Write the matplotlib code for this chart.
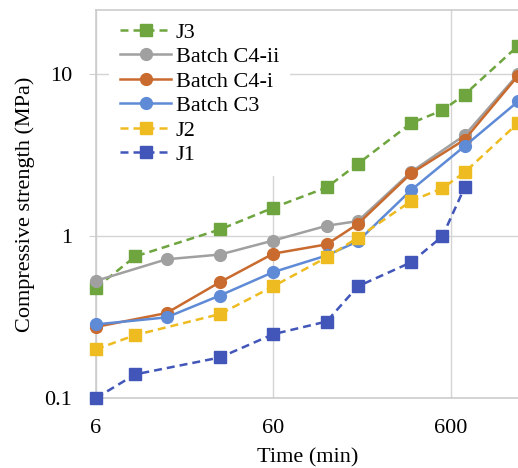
import matplotlib
matplotlib.use("Agg")
import matplotlib.pyplot as plt

plt.rcParams['font.family'] = ['Liberation Serif', 'DejaVu Serif']

# Data
t_j3 = [6, 10, 30, 60, 120, 180, 360, 540, 720, 1440]
j3 = [0.48, 0.75, 1.1, 1.5, 2.0, 2.8, 5.0, 6.0, 7.5, 15.0]

t_batch = [6, 15, 30, 60, 120, 180, 360, 720, 1440]
c4ii = [0.53, 0.72, 0.77, 0.94, 1.16, 1.24, 2.5, 4.2, 10.0]
c4i = [0.275, 0.335, 0.52, 0.78, 0.89, 1.19, 2.45, 3.95, 9.8]
c3 = [0.285, 0.315, 0.43, 0.60, 0.76, 0.93, 1.93, 3.6, 6.8]

t_j2 = [6, 10, 30, 60, 120, 180, 360, 540, 720, 1440]
j2 = [0.2, 0.245, 0.33, 0.49, 0.74, 0.98, 1.65, 1.98, 2.48, 5.0]

t_j1 = [6, 10, 30, 60, 120, 180, 360, 540, 720]
j1 = [0.1, 0.14, 0.178, 0.248, 0.297, 0.49, 0.69, 1.0, 2.0]

xticks = [6, 60, 600]
xticklabels = ["6", "60", "600"]
yticks = [0.1, 1, 10]
yticklabels = ["0.1", "1", "10"]

W, H = 518, 468
fig = plt.figure(figsize=(W / 100, H / 100), dpi=100)
ax = fig.add_axes([96 / W, 1 - 398 / H, 1 - 96 / W + 0.002, (398 - 10) / H])
ax.set_xscale('log')
ax.set_yscale('log')
ax.set_xlim(6, 1460)
ax.set_ylim(0.1, 25)

lw = 1.8
dash = (3.2, 2.0)
common = dict(linewidth=lw, clip_on=False, zorder=3)
ax.plot(t_j3, j3, color='#6EA53E', marker='s', markersize=8.5, dashes=dash, label='J3', **common)
ax.plot(t_batch, c4ii, color='#A0A0A0', marker='o', markersize=8.5, label='Batch C4-ii', **common)
ax.plot(t_batch, c4i, color='#C96A2E', marker='o', markersize=8.5, label='Batch C4-i', **common)
ax.plot(t_batch, c3, color='#5E8AD6', marker='o', markersize=8.5, label='Batch C3', **common)
ax.plot(t_j2, j2, color='#EEBC20', marker='s', markersize=8.5, dashes=dash, label='J2', **common)
ax.plot(t_j1, j1, color='#4256B9', marker='s', markersize=8.5, dashes=dash, label='J1', **common)

ax.set_xticks(xticks)
ax.set_xticklabels(xticklabels)
ax.set_yticks(yticks)
ax.set_yticklabels(yticklabels)
ax.minorticks_off()
ax.tick_params(axis='x', length=0, pad=15, labelsize=16)
ax.tick_params(axis='y', length=5, width=0.8, color='#D0D0D0', pad=12, labelsize=16)

ax.grid(True, color='#D4D4D4', linewidth=1.0)
ax.set_axisbelow(True)
for s in ['top', 'left', 'bottom']:
    ax.spines[s].set_color('#CCCCCC')
    ax.spines[s].set_linewidth(1.2)
ax.spines['right'].set_visible(False)

ax.set_xlabel('Time (min)', fontsize=16, labelpad=7.5)
ax.set_ylabel('Compressive strength (MPa)', fontsize=16, labelpad=6.5)

leg = ax.legend(loc='upper left', bbox_to_anchor=(0.028, 1.0), fontsize=16,
                frameon=True, facecolor='white', edgecolor='none', framealpha=1,
                fancybox=False, handlelength=2.3, handletextpad=0.2,
                labelspacing=0.175, borderpad=0.5, borderaxespad=0.05)
leg.set_zorder(5)

fig.savefig('out.png', dpi=100)
